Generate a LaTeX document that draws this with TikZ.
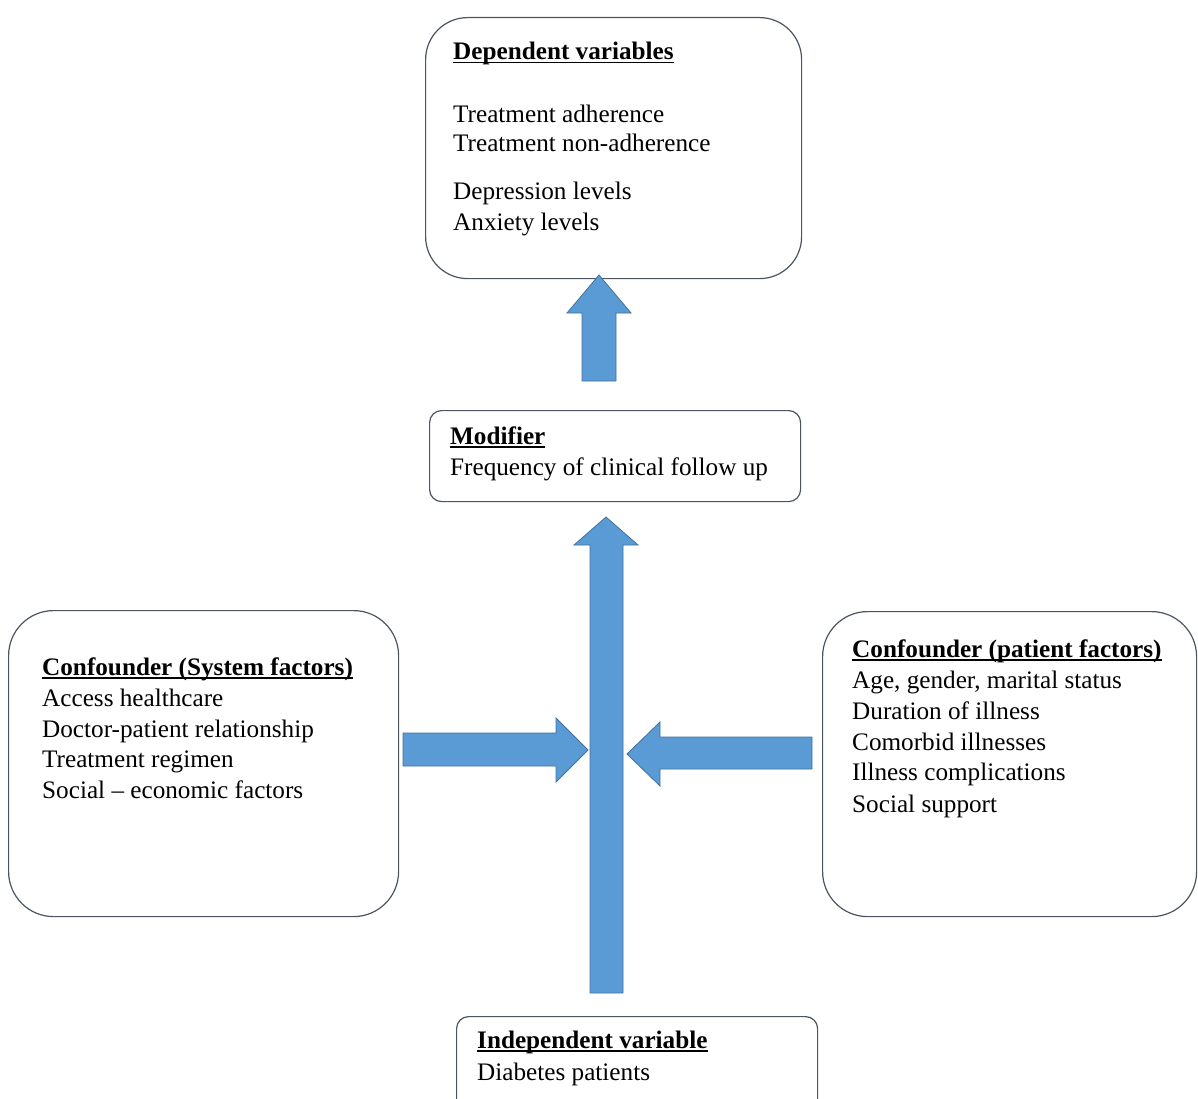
\documentclass[tikz,border=0pt]{standalone}
\usepackage{fontspec}
\setmainfont{Liberation Serif}
\newlength\myulw
\newcommand\myul[1]{\settowidth\myulw{#1}#1\llap{\rule[-3.5pt]{\myulw}{1.3pt}}}
\definecolor{boxline}{HTML}{4A5560}
\definecolor{arrfill}{HTML}{5B9BD5}
\definecolor{arredge}{HTML}{41719C}
\begin{document}
\begin{tikzpicture}[x=1pt,y=-1pt,
  box/.style={draw=boxline, line width=1.2pt, fill=white, anchor=north west, inner sep=0pt},
  txt/.style={anchor=base west, inner sep=0pt, font=\fontsize{25.2}{30}\selectfont},
  hd/.style={txt, font=\fontsize{25.2}{30}\selectfont\bfseries},
  barrow/.style={fill=arrfill, draw=arredge, line width=0.8pt, line join=miter}]
\useasboundingbox (0,0) rectangle (1198,1099);
\clip (0,0) rectangle (1198,1099);

% boxes
\node[box, rounded corners=42pt, minimum width=376pt, minimum height=261pt] (dep) at (425,17) {};
\node[box, rounded corners=12pt, minimum width=371pt, minimum height=91pt] (mod) at (429,410) {};
\node[box, rounded corners=45pt, minimum width=390pt, minimum height=306pt] (sys) at (8,610) {};
\node[box, rounded corners=45pt, minimum width=374pt, minimum height=305pt] (pat) at (822,611) {};
\node[box, rounded corners=12pt, minimum width=361pt, minimum height=100pt] (ind) at (456,1016) {};

% arrows
\coordinate (tipA) at (599,275);
\coordinate (tipB) at (606,517);
\coordinate (tipC) at (588,750);
\coordinate (tipD) at (627,754);
\draw[barrow] (582,381) -- (582,313) -- (567,313) -- (tipA) -- (631,313) -- (616,313) -- (616,381) -- cycle;
\draw[barrow] (590,993) -- (590,545) -- (574,545) -- (tipB) -- (638,545) -- (623,545) -- (623,993) -- cycle;
\draw[barrow] (403,733) -- (556,733) -- (556,718) -- (tipC) -- (556,782) -- (556,766) -- (403,766) -- cycle;
\draw[barrow] (812,737) -- (660,737) -- (660,722) -- (tipD) -- (660,786) -- (660,769) -- (812,769) -- cycle;

% dependent variables
\node[hd] (d0) at (453,60) {\myul{Dependent variables}};
\node[txt] (d1) at (453,123) {Treatment adherence};
\node[txt] (d2) at (453,152) {Treatment non-adherence};
\node[txt] (d3) at (453,200) {Depression levels};
\node[txt] (d4) at (453,230) {Anxiety levels};

% modifier
\node[hd] (m0) at (450,444) {\myul{Modifier}};
\node[txt] (m1) at (450,475) {Frequency of clinical follow up};

% system factors
\node[hd] (s0) at (42,675) {\myul{Confounder (System factors)}};
\node[txt] (s1) at (42,706) {Access healthcare};
\node[txt] (s2) at (42,737) {Doctor-patient relationship};
\node[txt] (s3) at (42,767) {Treatment regimen};
\node[txt] (s4) at (42,798) {Social -- economic factors};

% patient factors
\node[hd] (p0) at (852,657) {\myul{Confounder (patient factors)}};
\node[txt] (p1) at (852,688) {Age, gender, marital status};
\node[txt] (p2) at (852,719) {Duration of illness};
\node[txt] (p3) at (852,750) {Comorbid illnesses};
\node[txt] (p4) at (852,780) {Illness complications};
\node[txt] (p5) at (852,812) {Social support};

% independent
\node[hd] (i0) at (477,1048) {\myul{Independent variable}};
\node[txt] (i1) at (477,1080) {Diabetes patients};
\end{tikzpicture}
\end{document}
